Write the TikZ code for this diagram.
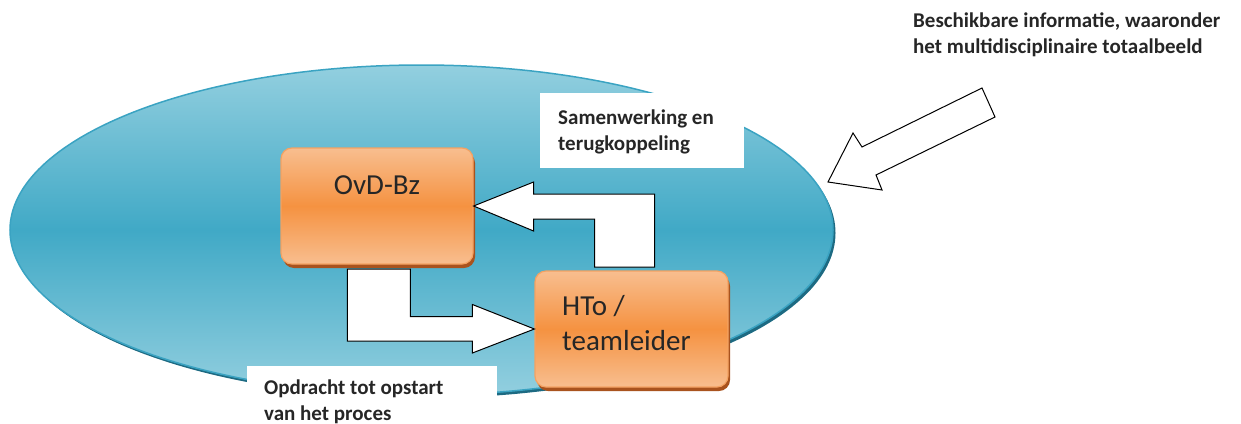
\documentclass[tikz,border=0pt]{standalone}
\usepackage{fontspec}
\setmainfont{Carlito}
\usetikzlibrary{calc}
\definecolor{elltop}{HTML}{93CFDF}
\definecolor{ellmid}{HTML}{40A9C6}
\definecolor{ellline}{HTML}{3AA3C2}
\definecolor{ellshadow}{HTML}{1D6A82}
\definecolor{orlight}{HTML}{F8BE8F}
\definecolor{ormid}{HTML}{F59241}
\definecolor{orline}{HTML}{F4A262}
\definecolor{orshadow}{HTML}{A9531E}
\definecolor{txt}{HTML}{262626}
\tikzset{
  obox/.style={rectangle, rounded corners=11pt, minimum width=192pt, minimum height=116pt,
    draw=orline, line width=1.2pt, top color=orlight, bottom color=orlight, middle color=ormid, inner sep=0pt},
  oshadow/.style={fill=orshadow, rounded corners=11pt},
  blockarrow/.style={draw=black, fill=white, line width=1pt, line join=miter},
  lbox/.style={fill=white, draw=none},
  lbl/.style={font=\fontsize{21}{26}\selectfont\bfseries, text=txt, align=left, inner sep=0pt, anchor=base west},
  boxtxt/.style={font=\fontsize{29}{35}\selectfont, text=txt, align=left, inner sep=0pt, anchor=base west}
}
\begin{document}
\begin{tikzpicture}[x=1pt,y=-1pt]
\useasboundingbox (0,0) rectangle (1241,423);
% ellipse with shadow
\fill[ellshadow] (424,233) ellipse [x radius=411.5pt, y radius=165pt];
\path[top color=elltop, bottom color=elltop, middle color=ellmid, draw=ellline, line width=1.5pt]
  (421.5,230) ellipse [x radius=411.5pt, y radius=165pt];
% label boxes
\fill[lbox] (540,93) rectangle (744,168);
\node[lbl] (samen) at (558,150) {Samenwerking en\\terugkoppeling};
% orange boxes
\fill[oshadow] (283,152) rectangle (475,268);
\node[obox] (ovd) at (377,206) {};
\node[boxtxt, anchor=base] (ovdt) at (377,194) {OvD-Bz};
\fill[oshadow] (537,275) rectangle (730,391);
\node[obox, minimum width=193pt] (hto) at (631.5,329) {};
\node[boxtxt] (htot) at (562,350) {HTo /\\teamleider};
% feedback arrow (HTo -> OvD-Bz)
\draw[blockarrow] (ovd.east) -- ++(60,-24) -- ++(0,12) -- ++(121,0) -- ++(0,73) -- ++(-60,0)
  -- ++(0,-48) -- ++(-61,0) -- ++(0,12) -- cycle;
% instruction arrow (OvD-Bz -> HTo)
\draw[blockarrow] (hto.west) -- ++(-62,-24.5) -- ++(0,12) -- ++(-62,0) -- ++(0,-47.5) -- ++(-63,0)
  -- ++(0,72) -- ++(125,0) -- ++(0,12) -- cycle;
% bottom label
\fill[lbox] (247,366) rectangle (497,423);
\node[lbl] (opdr) at (264,420) {Opdracht tot opstart\\van het proces};
% incoming information arrow
\node[lbl] (info) at (913,53) {Beschikbare informatie, waaronder\\het multidisciplinaire totaalbeeld};
\coordinate (intip) at (828,182);
\draw[blockarrow] (intip) -- (853,133) -- (862,147) -- (982,88) -- (995,117) -- (876,175) -- (882,190) -- cycle;
\end{tikzpicture}
\end{document}
